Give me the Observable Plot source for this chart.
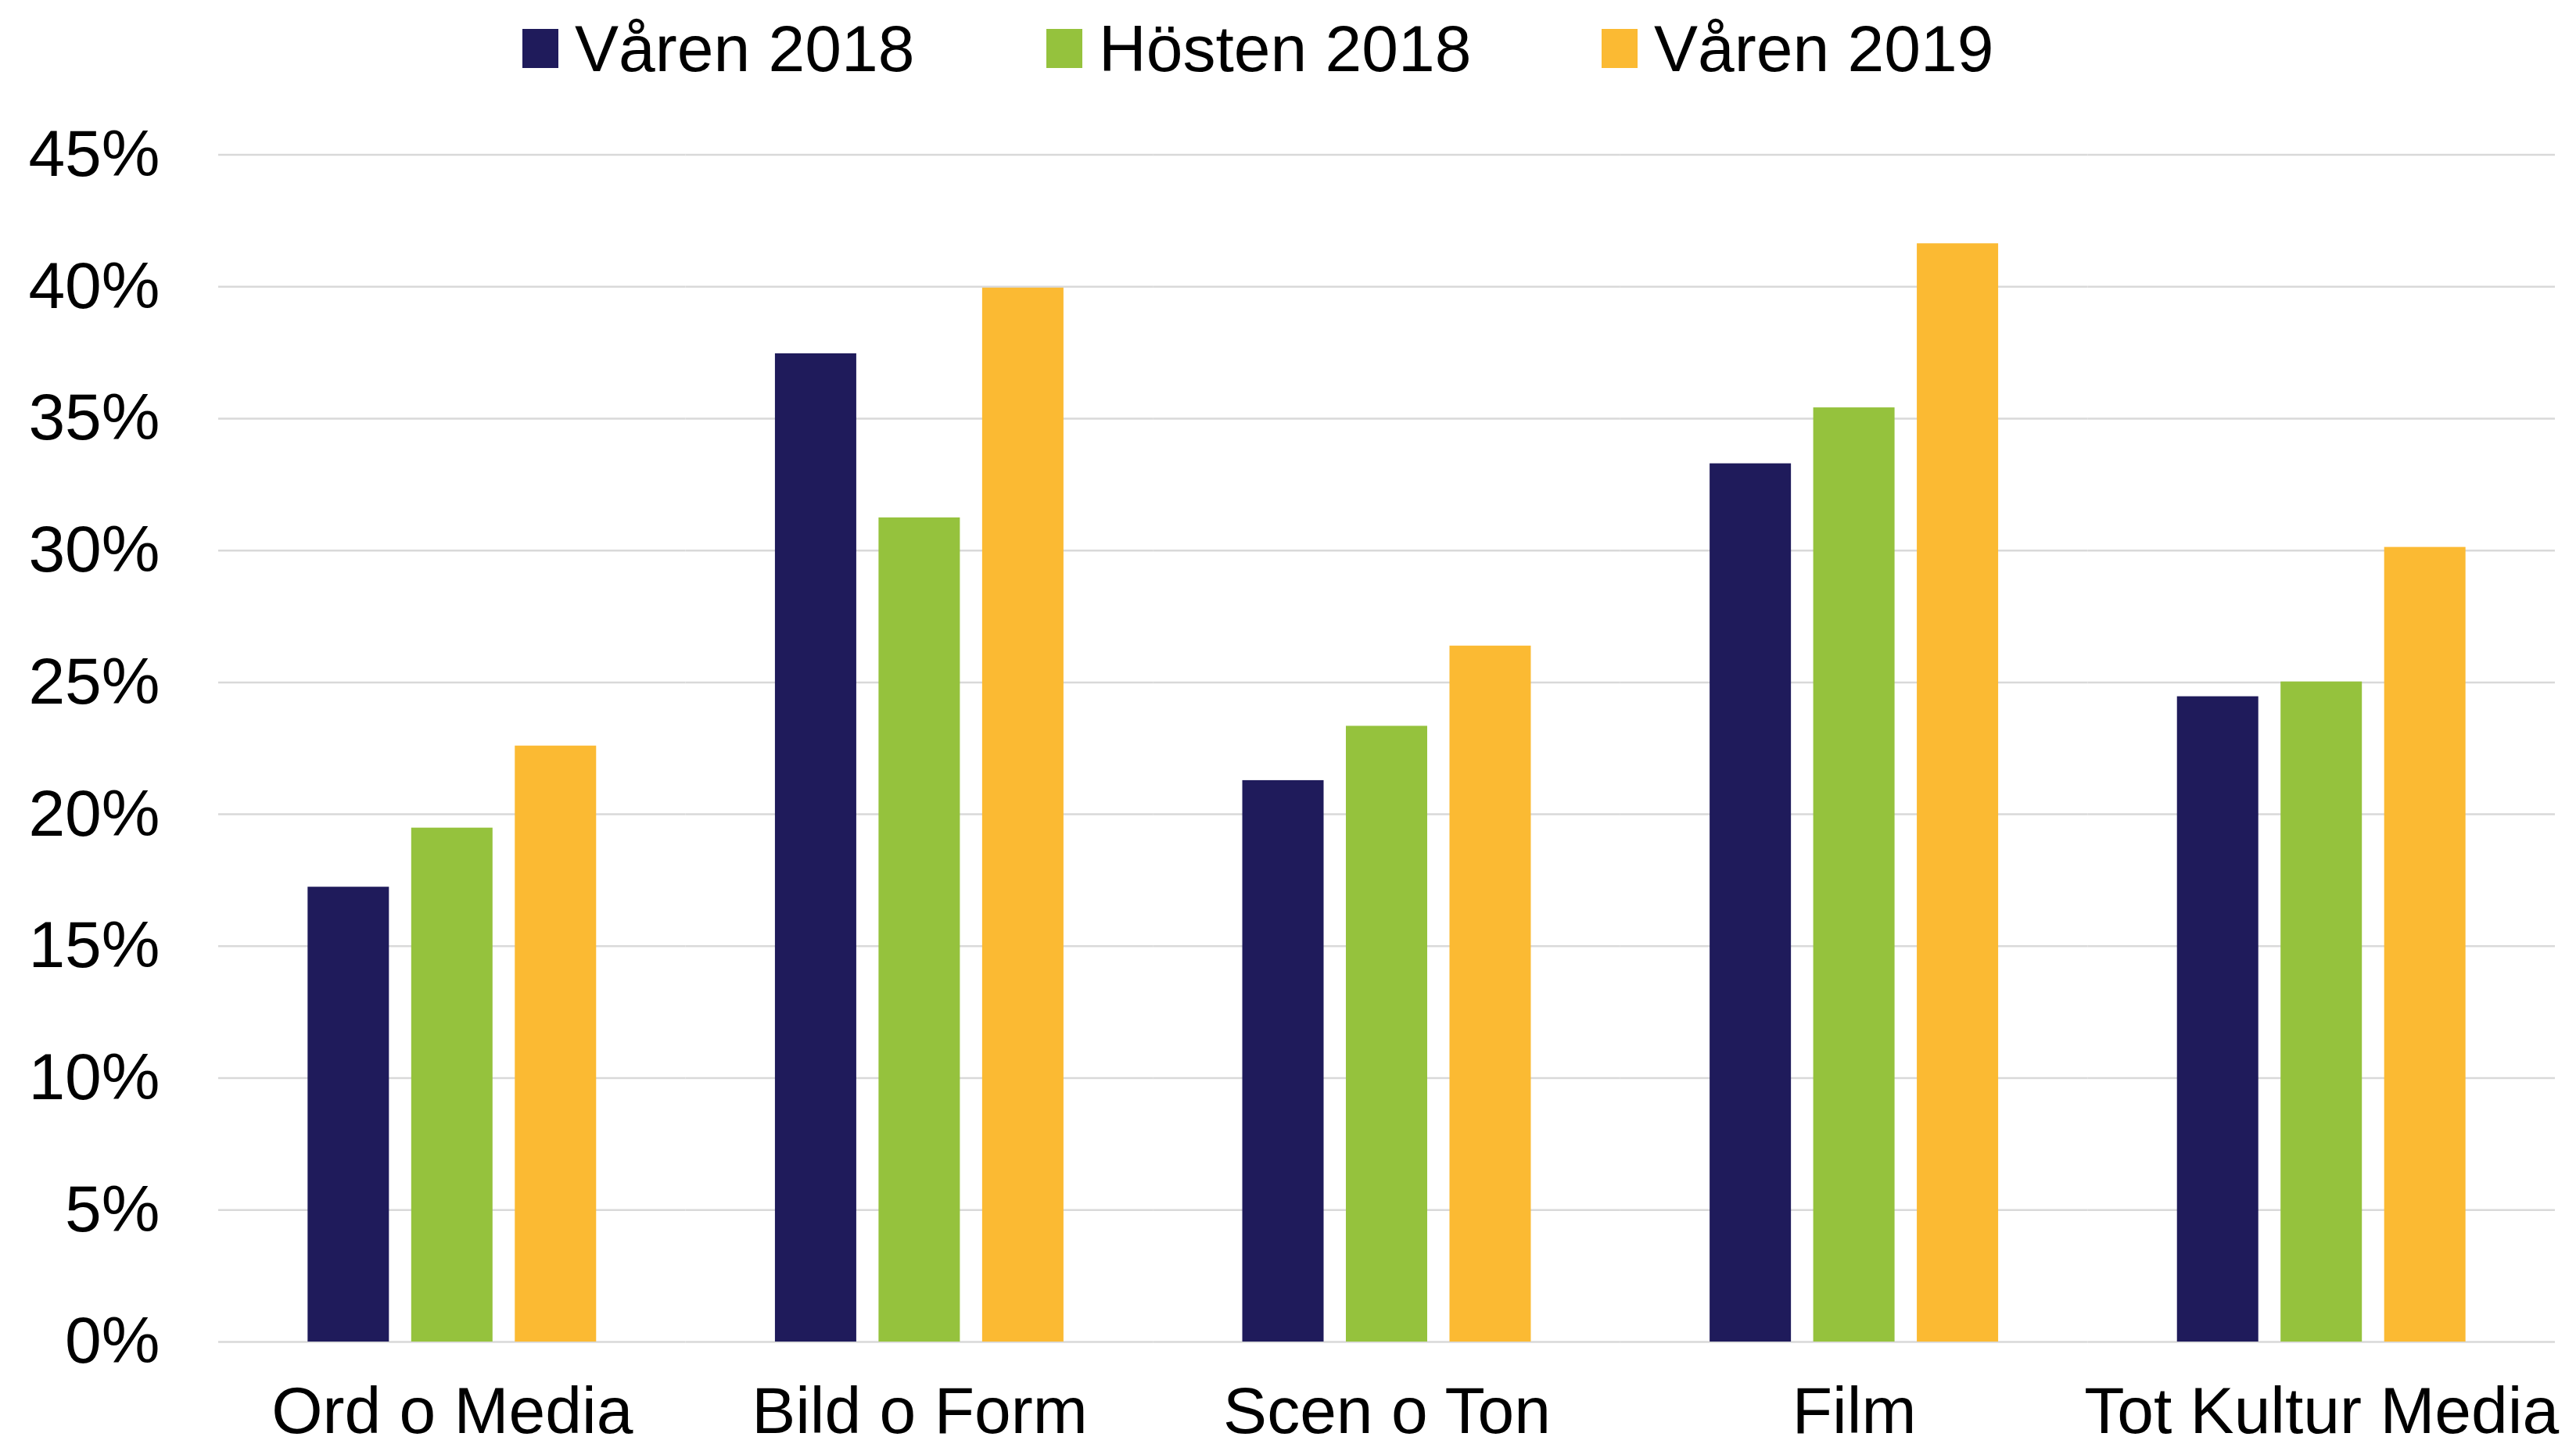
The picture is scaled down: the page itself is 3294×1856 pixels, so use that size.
<!DOCTYPE html>
<html>
<head>
<meta charset="utf-8">
<script src="https://cdn.jsdelivr.net/npm/d3@7"></script>
<script src="https://cdn.jsdelivr.net/npm/@observablehq/plot@0.6"></script>
<style>
  html, body { margin: 0; padding: 0; background: #fff; }
  body { width: 3294px; height: 1856px; overflow: hidden; font-family: "Liberation Sans", Arial, sans-serif; }
  #legend { height: 110px; position: relative; font-size: 84px; line-height: 84px; color: #000; }
  .item { position: absolute; top: 20px; display: flex; align-items: center; height: 84px; }
  .sw { width: 46px; height: 50px; margin-right: 21px; }
</style>
</head>
<body>
<div id="legend"></div>
<div id="chart"></div>
<script>
const categories = ["Ord o Media", "Bild o Form", "Scen o Ton", "Film", "Tot Kultur Media"];
const series = ["Våren 2018", "Hösten 2018", "Våren 2019"];
const colors = ["#1f1b5b", "#95c23d", "#fbba33"];
const varen2018 = [0.1724, 0.3746, 0.2128, 0.3329, 0.2446];
const hosten2018 = [0.1948, 0.3124, 0.2334, 0.3541, 0.2502];
const varen2019 = [0.2259, 0.3995, 0.2638, 0.4163, 0.3012];
const yTicks = [0, 0.05, 0.10, 0.15, 0.20, 0.25, 0.30, 0.35, 0.40, 0.45];

const seriesValues = [varen2018, hosten2018, varen2019];
const data = [];
categories.forEach((c, i) => {
  series.forEach((s, j) => data.push({category: c, series: s, value: seriesValues[j][i]}));
});

// legend
const legendLefts = [668, 1338, 2048];
const legend = document.getElementById("legend");
series.forEach((s, j) => {
  const it = document.createElement("div");
  it.className = "item";
  it.style.left = legendLefts[j] + "px";
  const sw = document.createElement("div");
  sw.className = "sw";
  sw.style.background = colors[j];
  const tx = document.createElement("span");
  tx.textContent = s;
  it.appendChild(sw); it.appendChild(tx);
  legend.appendChild(it);
});

const chart = Plot.plot({
  width: 3294,
  height: 1746,
  marginLeft: 279,
  marginRight: 27,
  marginTop: 87.5,
  marginBottom: 140,
  style: {fontFamily: "'Liberation Sans', Arial, sans-serif", fontSize: "84px", color: "#000", background: "#fff"},
  fx: {domain: categories, padding: 0, round: false, label: null},
  x: {domain: series, paddingInner: 0.215, paddingOuter: 0.863, round: false, axis: null},
  y: {domain: [0, 0.45], label: null},
  color: {domain: series, range: colors},
  marks: [
    Plot.gridY(yTicks, {stroke: "#d9d9d9", strokeOpacity: 1, strokeWidth: 2.5}),
    Plot.axisY(yTicks, {tickSize: 0, tickPadding: 75, tickFormat: d3.format(".0%"), fontSize: 84, label: null}),
    Plot.axisFx({anchor: "bottom", tickSize: 0, tickPadding: 57, fontSize: 84, label: null}),
    Plot.barY(data, {fx: "category", x: "series", y: "value", fill: "series"})
  ]
});
document.getElementById("chart").appendChild(chart);
</script>
</body>
</html>
